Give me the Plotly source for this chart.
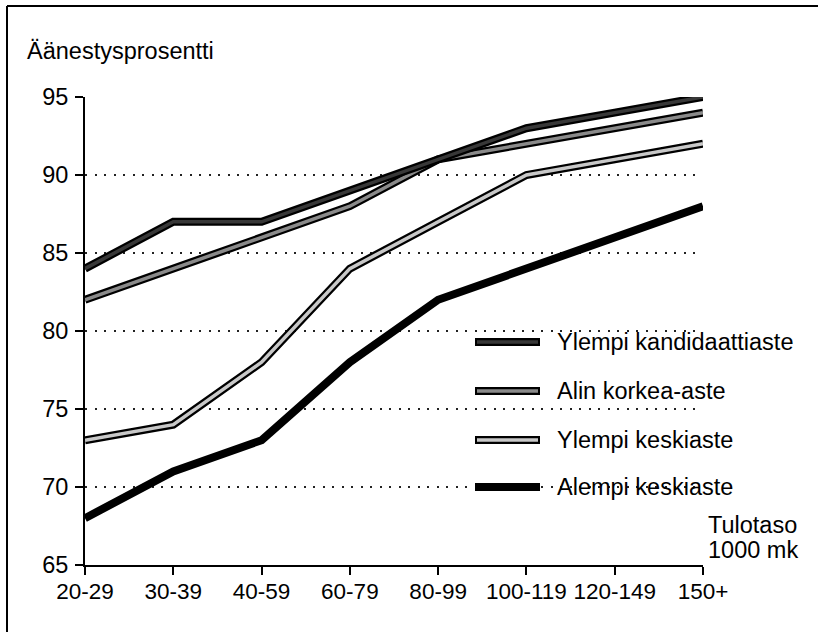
import plotly.graph_objects as go

tulotaso = ["20-29", "30-39", "40-59", "60-79", "80-99", "100-119", "120-149", "150+"]

ylempi_kandidaattiaste = [84, 87, 87, 89, 91, 93, 94, 95]
alin_korkea_aste = [82, 84, 86, 88, 91, 92, 93, 94]
ylempi_keskiaste = [73, 74, 78, 84, 87, 90, 91, 92]
alempi_keskiaste = [68, 71, 73, 78, 82, 84, 86, 88]

y_ticks = [65, 70, 75, 80, 85, 90, 95]

# name, values, inner colour (None = solid black)
series = [
    ("Alempi keskiaste", alempi_keskiaste, None),
    ("Ylempi keskiaste", ylempi_keskiaste, "#c8c8c8"),
    ("Alin korkea-aste", alin_korkea_aste, "#8a8a8a"),
    ("Ylempi kandidaattiaste", ylempi_kandidaattiaste, "#383838"),
]

W, H = 818, 632
L, R, T, B = 85, 115, 97, 67
FONT = "Liberation Sans, Arial, sans-serif"
FS = 23.5


def px_x(px):
    return (px - L) / (W - L - R)


def px_y(py):
    return (H - B - py) / (H - T - B)


fig = go.Figure()
xs = list(range(len(tulotaso)))
for name, vals, inner in series:
    fig.add_trace(go.Scatter(x=xs, y=vals, mode="lines", name=name,
                             line=dict(color="black", width=8), showlegend=False))
    if inner:
        fig.add_trace(go.Scatter(x=xs, y=vals, mode="lines", name=name,
                                 line=dict(color=inner, width=3.5), showlegend=False,
                                 hoverinfo="skip"))

shapes = []
annotations = []

# legend, drawn by hand to get the outlined line samples
legend_rows = [342, 391, 440, 487]
legend_order = ["Ylempi kandidaattiaste", "Alin korkea-aste", "Ylempi keskiaste", "Alempi keskiaste"]
inner_of = {s[0]: s[2] for s in series}
for name, py in zip(legend_order, legend_rows):
    y = px_y(py)
    shapes.append(dict(type="line", xref="paper", yref="paper", x0=px_x(475), x1=px_x(540),
                       y0=y, y1=y, line=dict(color="black", width=8)))
    if inner_of[name]:
        shapes.append(dict(type="line", xref="paper", yref="paper", x0=px_x(477), x1=px_x(538),
                           y0=y, y1=y, line=dict(color=inner_of[name], width=3.5)))
    annotations.append(dict(text=name, xref="paper", yref="paper", x=px_x(555), y=y,
                            xanchor="left", yanchor="middle", showarrow=False,
                            font=dict(size=FS, color="black", family=FONT)))

# frame
shapes.append(dict(type="line", xref="paper", yref="paper", x0=px_x(7), x1=px_x(830),
                   y0=px_y(6), y1=px_y(6), line=dict(color="black", width=2)))
shapes.append(dict(type="line", xref="paper", yref="paper", x0=px_x(7), x1=px_x(7),
                   y0=px_y(6), y1=px_y(650), line=dict(color="black", width=2)))

annotations.append(dict(text="Äänestysprosentti", xref="paper", yref="paper",
                        x=px_x(25), y=px_y(51), xanchor="left", yanchor="middle",
                        showarrow=False, font=dict(size=FS, color="black", family=FONT)))
annotations.append(dict(text="Tulotaso", xref="paper", yref="paper",
                        x=px_x(706), y=px_y(525), xanchor="left", yanchor="middle",
                        showarrow=False, font=dict(size=FS, color="black", family=FONT)))
annotations.append(dict(text="1000 mk", xref="paper", yref="paper",
                        x=px_x(706), y=px_y(550), xanchor="left", yanchor="middle",
                        showarrow=False, font=dict(size=FS, color="black", family=FONT)))

fig.update_layout(
    width=W, height=H,
    margin=dict(l=L, r=R, t=T, b=B),
    paper_bgcolor="white", plot_bgcolor="white",
    font=dict(family=FONT, size=FS, color="black"),
    shapes=shapes, annotations=annotations,
    showlegend=False,
)
fig.update_xaxes(
    range=[0, len(tulotaso) - 1], tickvals=xs, ticktext=tulotaso,
    tickangle=0, automargin=False, tickfont=dict(size=22.5),
    showline=True, linecolor="black", linewidth=2,
    ticks="outside", ticklen=8, tickwidth=2, tickcolor="black",
    ticklabelstandoff=-3,
    showgrid=False, zeroline=False, fixedrange=True,
)
fig.update_yaxes(
    range=[65, 95], tickvals=y_ticks, automargin=False,
    showline=True, linecolor="black", linewidth=2,
    ticks="outside", ticklen=8, tickwidth=2, tickcolor="black",
    ticklabelstandoff=2,
    showgrid=True, gridcolor="#222", gridwidth=2, griddash="2px,7.5px",
    zeroline=False, fixedrange=True,
)

# the page body has a default 8px margin; drop it so the figure fills the window
fig.write_html("out.html", config={"displayModeBar": False},
               post_script="document.body.style.margin='0';")
